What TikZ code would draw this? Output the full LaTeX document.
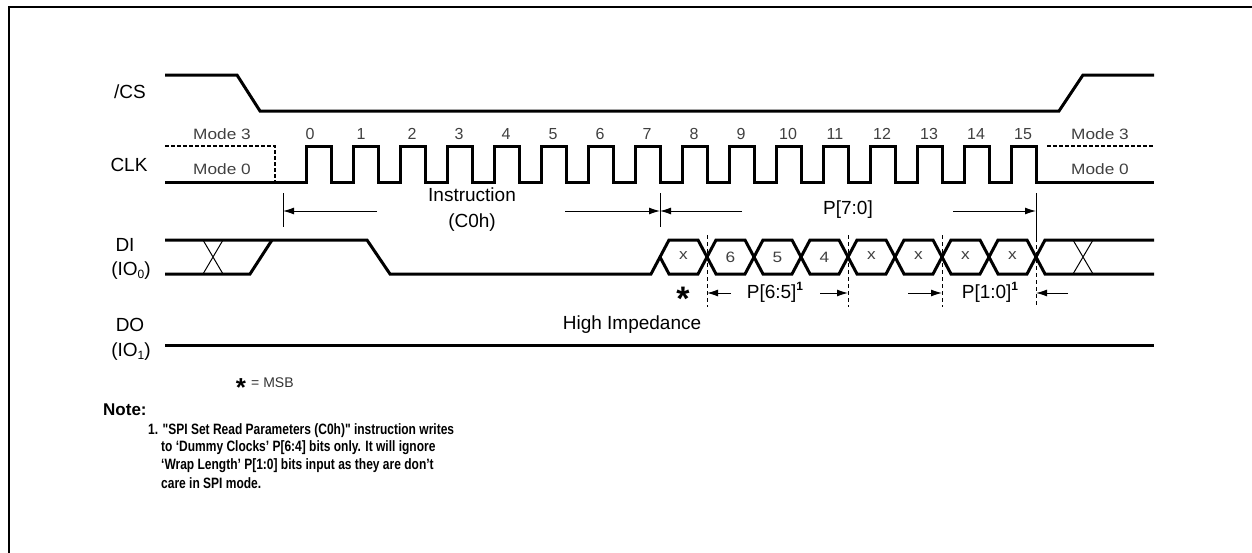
\documentclass[tikz,border=0pt]{standalone}
\usepackage{fontspec}
\setmainfont{Liberation Sans}
\newfontfamily\notefam[FakeStretch=0.8]{Liberation Sans Bold}
\newfontfamily\widefam[FakeStretch=1.15]{Liberation Sans}
\usetikzlibrary{arrows.meta}
\newcommand\myfs[1]{\fontsize{#1}{#1}\selectfont}
\begin{document}
\begin{tikzpicture}[x=1pt,y=-1pt,
  sig/.style={line width=3pt, line join=miter},
  thinx/.style={line width=1pt},
  lbl/.style={font=\myfs{19}, inner sep=0pt},
  gl/.style={font=\widefam\myfs{15}, text=black!75, inner sep=0pt},
  num/.style={font=\myfs{16}, text=black!75, inner sep=0pt},
  dimarrow/.style={line width=1pt, -{Latex[length=11pt,width=7pt]}},
  vdash/.style={line width=1pt, dash pattern=on 4pt off 3pt},
  modeline/.style={line width=2.5pt, dash pattern=on 4pt off 2pt},
  notefont/.style={font=\notefam\myfs{15}, inner sep=0pt, anchor=west}]
\useasboundingbox (0,0) rectangle (1252,552);
% frame
\draw[line width=2pt] (9,600) -- (9,7) -- (1300,7);

% signal labels
\node[lbl] (lcs) at (130,92) {/CS};
\node[lbl] (lclk) at (129,165) {CLK};
\node[lbl] (ldi) at (125,245) {DI};
\node[lbl] (lio0) at (131,271) {(IO\raisebox{-0.3ex}{\myfs{12}0})};
\node[lbl] (ldo) at (130,325) {DO};
\node[lbl] (lio1) at (131,352) {(IO\raisebox{-0.3ex}{\myfs{12}1})};

% /CS
\draw[sig] (165,75) -- (237,75) -- (260,111) -- (1059,111) -- (1083,75) -- (1154,75);

% CLK
\draw[modeline] (165,146) -- (275,146) -- (275,182);
\draw[modeline] (1047,146) -- (1154,146);
\draw[sig] (165,182) -- (306,182)
  \foreach \k in {0,...,15}{ -- ({306+47*\k},182) -- ({306+47*\k},146) -- ({331+47*\k},146) -- ({331+47*\k},182)}
  -- (1154,182);
\node[gl] (m3l) at (222,134) {Mode 3};
\node[gl] (m0l) at (222,169) {Mode 0};
\node[gl] (m3r) at (1100,134) {Mode 3};
\node[gl] (m0r) at (1100,169) {Mode 0};
\node[num] (n0) at (310,134) {0};
\node[num] (n1) at (361,134) {1};
\foreach \k in {2,...,15}{ \node[num] (n\k) at ({318+47*\k},134) {\k}; }

% dimension ticks
\coordinate (ta1) at (283,193); \coordinate (tb1) at (283,227);
\coordinate (ta2) at (660,193); \coordinate (tb2) at (660,227);
\coordinate (ta3) at (1036,193); \coordinate (tb3) at (1036,238); \coordinate (tc3) at (1036,307);
\draw[thinx] (ta1) -- (tb1);
\draw[thinx] (ta2) -- (tb2);
\draw[thinx] (ta3) -- (tb3);
\draw[vdash] (tb3) -- (tc3);
\coordinate (ia) at (283,211); \coordinate (ib) at (377,211);
\coordinate (ic) at (565,211); \coordinate (id) at (660,211);
\coordinate (pa) at (742,211); \coordinate (pb) at (953,211); \coordinate (pc) at (1036,211);
\draw[dimarrow] (ib) -- (ia);
\draw[dimarrow] (ic) -- (id);
\draw[dimarrow] (pa) -- (id);
\draw[dimarrow] (pb) -- (pc);
\node[lbl, align=center, font=\fontsize{19}{26}\selectfont] (instr) at (472,210) {Instruction\\(C0h)};
\node[lbl] (p70) at (848,210) {P[7:0]};

% DI waveform
\draw[sig] (165,240) -- (367,240) -- (390,274) -- (651,274) -- (669,240) -- (698,240) -- (716,274) -- (745,274) -- (763,240) -- (792,240) -- (810,274) -- (839,274) -- (857,240) -- (886,240) -- (904,274) -- (933,274) -- (951,240) -- (980,240) -- (998,274) -- (1027,274) -- (1045,240) -- (1154,240);
\draw[sig] (660,257) -- (669,274) -- (698,274) -- (716,240) -- (745,240) -- (763,274) -- (792,274) -- (810,240) -- (839,240) -- (857,274) -- (886,274) -- (904,240) -- (933,240) -- (951,274) -- (980,274) -- (998,240) -- (1027,240) -- (1045,274) -- (1154,274);
\draw[sig] (165,274) -- (250,274) -- (272,240);
\draw[thinx] (203,240) -- (223,274) (203,274) -- (223,240);
\draw[thinx] (1073,240) -- (1093,274) (1073,274) -- (1093,240);
\node[gl] (b0) at (683.5,256) {x};
\node[gl] (b1) at (730.5,257) {6};
\node[gl] (b2) at (777.5,257) {5};
\node[gl] (b3) at (824.5,257) {4};
\node[gl] (b4) at (871.5,256) {x};
\node[gl] (b5) at (918.5,256) {x};
\node[gl] (b6) at (965.5,256) {x};
\node[gl] (b7) at (1012.5,256) {x};

% dashed markers
\coordinate (d1a) at (707,235); \coordinate (d1b) at (707,307);
\coordinate (d2a) at (848,235); \coordinate (d2b) at (848,307);
\coordinate (d3a) at (942,235); \coordinate (d3b) at (942,307);
\draw[vdash] (d1a) -- (d1b);
\draw[vdash] (d2a) -- (d2b);
\draw[vdash] (d3a) -- (d3b);

% P[6:5], P[1:0]
\coordinate (qa) at (707,293); \coordinate (qb) at (731,293);
\coordinate (qc) at (820,293); \coordinate (qd) at (848,293);
\coordinate (qe) at (908,293); \coordinate (qf) at (942,293);
\coordinate (qg) at (1068,293); \coordinate (qh) at (1036,293);
\draw[dimarrow] (qb) -- (qa);
\draw[dimarrow] (qc) -- (qd);
\draw[dimarrow] (qe) -- (qf);
\draw[dimarrow] (qg) -- (qh);
\node[lbl] (p65) at (775,292) {P[6:5]\raisebox{0.8ex}{\bfseries\myfs{12}1}};
\node[lbl] (p10) at (990,292) {P[1:0]\raisebox{0.8ex}{\bfseries\myfs{12}1}};
\node[font=\bfseries\myfs{34}, inner sep=0pt] (star) at (683,299) {*};

% DO
\draw[sig] (165,345) -- (1154,345);
\node[lbl] (hiz) at (632,325) {High Impedance};

% legend
\node[font=\bfseries\myfs{26}, inner sep=0pt] (lstar) at (241,388) {*};
\node[font=\myfs{14}, text=black!80, inner sep=0pt, anchor=west] (msb) at (251,383) {= MSB};

% note
\node[font=\bfseries\myfs{17}, inner sep=0pt, anchor=west] (note) at (103,410) {Note:};
\node[notefont] (nl1) at (148,431) {1. "SPI Set Read Parameters (C0h)" instruction writes};
\node[notefont] (nl2) at (161,448) {to ‘Dummy Clocks’ P[6:4] bits only. It will ignore};
\node[notefont] (nl3) at (161,466) {‘Wrap Length’ P[1:0] bits input as they are don’t};
\node[notefont] (nl4) at (161,483) {care in SPI mode.};
\end{tikzpicture}
\end{document}
